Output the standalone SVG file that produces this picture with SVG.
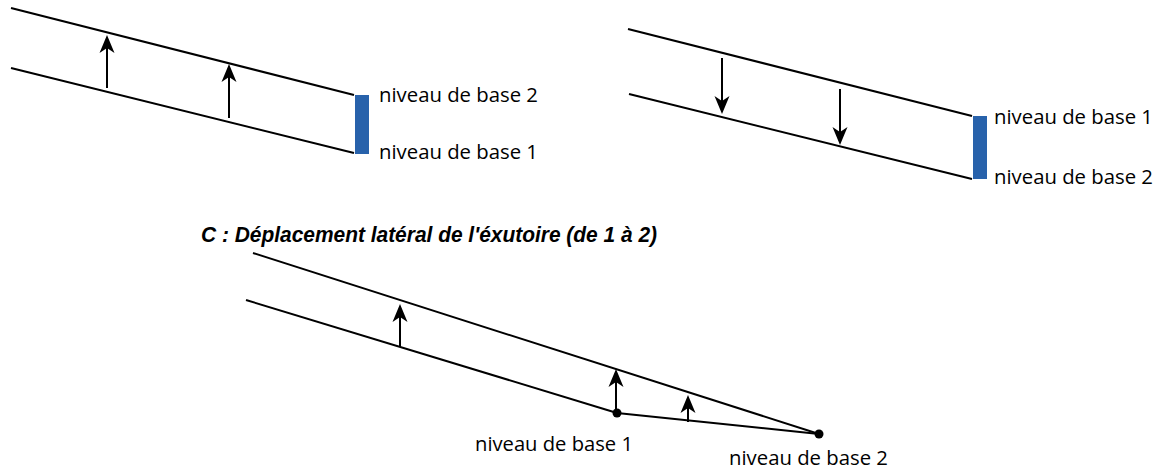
<svg xmlns="http://www.w3.org/2000/svg" width="1165" height="470" viewBox="0 0 1165 470">
<style>
.ln{fill:none;stroke:#000;stroke-width:2}
.ar{fill:none;stroke:#000;stroke-width:2;marker-end:url(#ah)}
.bar{fill:#2862ab}
.lbl{font-family:"Open Sans","Liberation Sans",sans-serif;font-size:20.5px;fill:#000}
.ttl{font-family:"Liberation Sans",Arial,sans-serif;font-size:22px;font-weight:bold;font-style:italic;fill:#000}
</style>
<defs>
<marker id="ah" viewBox="-18 -8 19 16" refX="-13" refY="0" markerWidth="19" markerHeight="16" markerUnits="userSpaceOnUse" orient="auto">
<path d="M0,0 L-18,-7.5 L-13,0 L-18,7.5 Z" fill="#000"/>
</marker>
</defs>
<rect width="1165" height="470" fill="#fff"/>
<g id="panelA">
<line class="ln" x1="11" y1="8" x2="354" y2="95"/>
<line class="ln" x1="11" y1="68" x2="354" y2="153"/>
<rect id="barA" class="bar" x="355" y="95" width="14" height="59"/>
<text class="lbl" x="379" y="102" textLength="159" lengthAdjust="spacingAndGlyphs">niveau de base 2</text>
<text class="lbl" x="379" y="159" textLength="159" lengthAdjust="spacingAndGlyphs">niveau de base 1</text>
</g>
<g id="panelB">
<line class="ln" x1="628" y1="29" x2="972" y2="116"/>
<line class="ln" x1="629" y1="94" x2="972" y2="179"/>
<rect id="barB" class="bar" x="973" y="116" width="14" height="63"/>
<text class="lbl" x="994" y="124" textLength="159" lengthAdjust="spacingAndGlyphs">niveau de base 1</text>
<text class="lbl" x="994" y="184" textLength="159" lengthAdjust="spacingAndGlyphs">niveau de base 2</text>
</g>
<g id="panelC">
<text class="ttl" x="201" y="242" textLength="456" lengthAdjust="spacingAndGlyphs">C : Déplacement latéral de l'éxutoire (de 1 à 2)</text>
<line class="ln" x1="253" y1="253" x2="819" y2="434"/>
<line class="ln" x1="246" y1="300" x2="617" y2="413"/>
<line class="ln" x1="617" y1="413" x2="819" y2="434"/>
<circle id="nb1" cx="617" cy="413" r="4.5" fill="#000"/>
<circle id="nb2" cx="819" cy="434" r="4.5" fill="#000"/>
<text class="lbl" x="475" y="451" textLength="158" lengthAdjust="spacingAndGlyphs">niveau de base 1</text>
<text class="lbl" x="729" y="465" textLength="159" lengthAdjust="spacingAndGlyphs">niveau de base 2</text>
</g>
<g id="connectors">
<line class="ar" x1="107" y1="88" x2="107" y2="48"/>
<line class="ar" x1="229" y1="118" x2="229" y2="77"/>
<line class="ar" x1="722" y1="58" x2="722" y2="101"/>
<line class="ar" x1="840" y1="89" x2="840" y2="132"/>
<line class="ar" x1="400" y1="347" x2="400" y2="317"/>
<line class="ar" x1="616" y1="413" x2="616" y2="382"/>
<line class="ar" x1="688" y1="422" x2="688" y2="408"/>
</g>
</svg>
